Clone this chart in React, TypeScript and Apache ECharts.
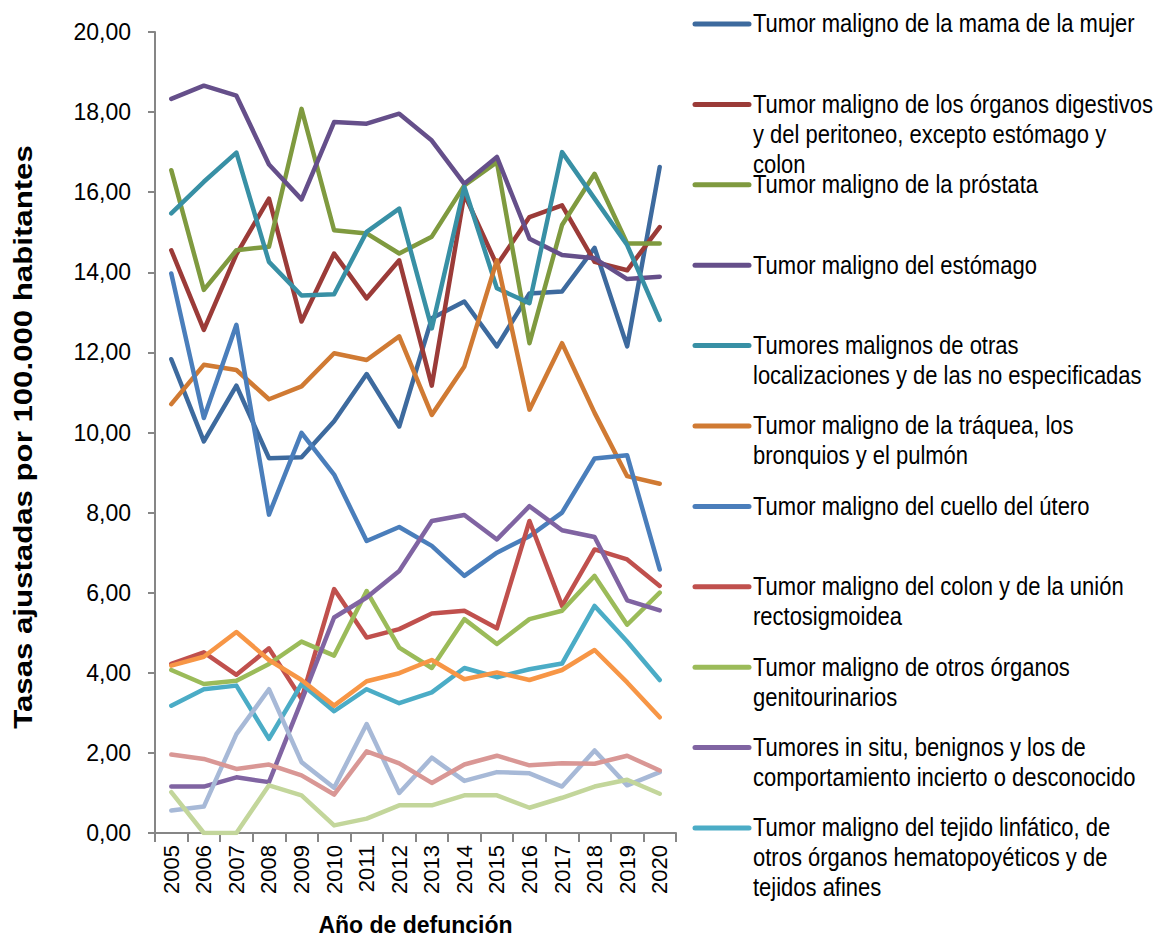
import React, { useEffect, useRef } from "react";
import * as echarts from "echarts";

const years = ["2005","2006","2007","2008","2009","2010","2011","2012","2013","2014","2015","2016","2017","2018","2019","2020"];

const legendNames = [
  "Tumor maligno de la mama de la mujer",
  "Tumor maligno de los órganos digestivos\ny del peritoneo, excepto estómago y\ncolon",
  "Tumor maligno de la próstata",
  "Tumor maligno del estómago",
  "Tumores malignos de otras\nlocalizaciones y de las no especificadas",
  "Tumor maligno de la tráquea, los\nbronquios y el pulmón",
  "Tumor maligno del cuello del útero",
  "Tumor maligno del colon y de la unión\nrectosigmoidea",
  "Tumor maligno de otros órganos\ngenitourinarios",
  "Tumores in situ, benignos y los de\ncomportamiento incierto o desconocido",
  "Tumor maligno del tejido linfático, de\notros órganos hematopoyéticos y de\ntejidos afines",
];
const extraNames = ["Serie 12", "Serie 13", "Serie 14", "Serie 15"];
const yTitle = "Tasas ajustadas por 100.000 habitantes";
const xTitle = "Año de defunción";

const mama = [11.83, 9.78, 11.17, 9.36, 9.38, 10.28, 11.46, 10.15, 12.85, 13.27, 12.15, 13.47, 13.52, 14.61, 12.15, 16.63];
const digestivos = [14.55, 12.56, 14.45, 15.84, 12.77, 14.47, 13.35, 14.3, 11.17, 15.95, 14.18, 15.38, 15.67, 14.26, 14.05, 15.13];
const prostata = [16.55, 13.56, 14.55, 14.64, 18.08, 15.05, 14.97, 14.47, 14.89, 16.17, 16.75, 12.23, 15.18, 16.46, 14.72, 14.72];
const estomago = [18.33, 18.66, 18.41, 16.69, 15.82, 17.75, 17.71, 17.96, 17.29, 16.21, 16.88, 14.84, 14.43, 14.35, 13.83, 13.89];
const otras = [15.47, 16.26, 16.99, 14.26, 13.42, 13.45, 15.01, 15.59, 12.6, 16.13, 13.6, 13.23, 17.0, 15.84, 14.68, 12.81];
const traquea = [10.71, 11.69, 11.56, 10.83, 11.15, 11.98, 11.81, 12.4, 10.44, 11.65, 14.3, 10.57, 12.23, 10.49, 8.91, 8.72];
const cuello = [13.97, 10.36, 12.69, 7.95, 9.99, 8.95, 7.29, 7.64, 7.17, 6.42, 7.0, 7.41, 8.0, 9.35, 9.43, 6.58];
const colon = [4.22, 4.51, 3.95, 4.61, 3.35, 6.09, 4.88, 5.09, 5.48, 5.55, 5.11, 7.79, 5.67, 7.08, 6.83, 6.17];
const genito = [4.07, 3.72, 3.8, 4.22, 4.78, 4.43, 6.04, 4.63, 4.12, 5.34, 4.72, 5.34, 5.55, 6.42, 5.2, 6.0];
const insitu = [1.16, 1.16, 1.39, 1.27, 3.3, 5.38, 5.88, 6.54, 7.79, 7.94, 7.33, 8.16, 7.56, 7.39, 5.81, 5.56];
const linfatico = [3.18, 3.59, 3.68, 2.35, 3.72, 3.04, 3.59, 3.24, 3.51, 4.12, 3.89, 4.09, 4.23, 5.67, 4.78, 3.82];
const serie12 = [4.18, 4.4, 5.02, 4.32, 3.82, 3.18, 3.79, 3.99, 4.32, 3.84, 4.01, 3.82, 4.07, 4.57, 3.76, 2.89];
const serie13 = [0.56, 0.66, 2.47, 3.59, 1.77, 1.13, 2.72, 1.0, 1.88, 1.3, 1.52, 1.49, 1.16, 2.06, 1.19, 1.52];
const serie14 = [1.96, 1.85, 1.6, 1.71, 1.44, 0.96, 2.04, 1.74, 1.25, 1.71, 1.93, 1.69, 1.74, 1.73, 1.93, 1.56];
const serie15 = [1.02, 0, 0, 1.19, 0.94, 0.19, 0.36, 0.69, 0.69, 0.94, 0.94, 0.63, 0.88, 1.16, 1.33, 0.98];

const seriesData = [mama, digestivos, prostata, estomago, otras, traquea, cuello, colon, genito, insitu, linfatico, serie12, serie13, serie14, serie15];
const colors = ["#3d6a9e", "#9b3b38", "#7f9a3f", "#654f8a", "#3890a5", "#d07a33", "#4a7ebb", "#c0504d", "#9bbb59", "#8064a2", "#4bacc6", "#f79646", "#a7b9d7", "#d99795", "#c3d69b"];

const FONT = '"Liberation Sans", Arial, sans-serif';

export default function App() {
  const ref = useRef<HTMLDivElement>(null);
  useEffect(() => {
    if (!ref.current) return;
    const chart = echarts.init(ref.current, null, { renderer: "svg" });
    const allNames = [...legendNames, ...extraNames];
    const gEls: any[] = [];
    legendNames.forEach((name, i) => {
      const cy = 24 + 80.4 * i;
      gEls.push({
        type: "line",
        shape: { x1: 695, y1: cy, x2: 749, y2: cy },
        style: { stroke: colors[i], lineWidth: 5, lineCap: "round" },
      });
      gEls.push({
        type: "text",
        x: 753,
        y: cy - 15,
        scaleY: 1.15,
        style: {
          text: name,
          fill: "#000",
          fontSize: 22,
          fontFamily: FONT,
          lineHeight: 26,
          verticalAlign: "top",
        },
      });
    });
    gEls.push({
      type: "text",
      x: 23,
      y: 437,
      rotation: Math.PI / 2,
      scaleX: 1.2,
      style: {
        text: yTitle,
        fill: "#000",
        fontSize: 26,
        fontWeight: "bold",
        fontFamily: FONT,
        align: "center",
        verticalAlign: "middle",
      },
    });
    chart.setOption({
      animation: false,
      backgroundColor: "#fff",
      grid: { left: 155, right: 480, top: 32, bottom: 105 },
      xAxis: {
        type: "category",
        data: years,
        boundaryGap: true,
        axisLine: { lineStyle: { color: "#868686", width: 2 } },
        axisTick: { show: true, length: 9, lineStyle: { color: "#868686", width: 2 } },
        axisLabel: { rotate: 90, fontSize: 22, fontFamily: FONT, color: "#000", margin: 12, interval: 0 },
        name: xTitle,
        nameLocation: "middle",
        nameGap: 80,
        nameTextStyle: { fontSize: 23, fontWeight: "bold", fontFamily: FONT, color: "#000" },
      },
      yAxis: {
        type: "value",
        min: 0,
        max: 20,
        interval: 2,
        axisLine: { show: true, lineStyle: { color: "#868686", width: 2 } },
        axisTick: { show: true, length: 7, lineStyle: { color: "#868686", width: 2 } },
        splitLine: { show: false },
        axisLabel: {
          fontSize: 23,
          fontFamily: FONT,
          color: "#000",
          margin: 24,
          formatter: (v: number) => v.toFixed(2).replace(".", ","),
        },
      },
      series: seriesData.map((d, i) => ({
        name: allNames[i],
        type: "line",
        data: d,
        symbol: "none",
        lineStyle: { color: colors[i], width: 4.5, cap: "round", join: "round" },
        itemStyle: { color: colors[i] },
      })),
      graphic: gEls,
    });
    return () => chart.dispose();
  }, []);
  return (
    <div
      ref={ref}
      style={{ position: "fixed", left: 0, top: 0, width: 1156, height: 941 }}
    />
  );
}
